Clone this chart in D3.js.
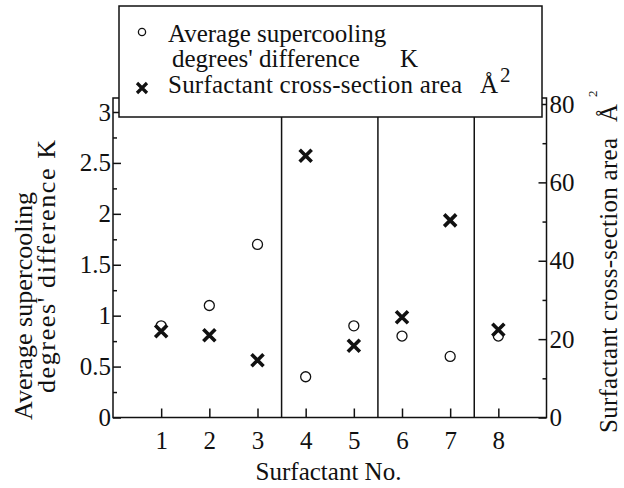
<!DOCTYPE html>
<html>
<head>
<meta charset="utf-8">
<script src="https://cdn.jsdelivr.net/npm/d3@7"></script>
<style>
  body { margin: 0; background: #fff; }
</style>
</head>
<body>
<svg id="mysvg" width="624" height="488"></svg>
<script>
// data
var surfactants = [1, 2, 3, 4, 5, 6, 7, 8];
var supercooling = [0.9, 1.1, 1.7, 0.4, 0.9, 0.8, 0.6, 0.8];      // K, left axis
var crossArea = [22, 21, 14.6, 66.8, 18.3, 25.6, 50.3, 22.4];     // A^2, right axis
var groupBreaks = [3.5, 5.5, 7.5];
var leftTicks = [0, 0.5, 1, 1.5, 2, 2.5, 3];
var leftMinor = [0.25, 0.75, 1.25, 1.75, 2.25, 2.75];
var rightTicks = [0, 20, 40, 60, 80];
var rightMinor = [10, 30, 50, 70];

var svg = d3.select("svg");
var ink = "#111";
var serif = "'Liberation Serif', 'Times New Roman', Times, serif";

var frame = {left: 113, right: 546.5, top: 98, bottom: 417.5};

var x = d3.scaleLinear().domain([0, 9]).range([frame.left, frame.right]);
var yL = d3.scaleLinear().domain([0, 3]).range([frame.bottom, 112]);
var yR = d3.scaleLinear().domain([0, 80]).range([frame.bottom, 104]);

// frame lines (top is hidden behind legend)
svg.append("rect")
  .attr("x", frame.left).attr("y", frame.top)
  .attr("width", frame.right - frame.left).attr("height", frame.bottom - frame.top)
  .attr("fill", "none").attr("stroke", ink).attr("stroke-width", 1.5);

// group separators
svg.selectAll(".sep")
  .data(groupBreaks)
  .enter().append("line")
    .attr("class", "sep")
    .attr("x1", function(d) { return x(d); })
    .attr("x2", function(d) { return x(d); })
    .attr("y1", frame.bottom)
    .attr("y2", frame.top)
    .attr("stroke", ink).attr("stroke-width", 1.5);

function styleAxis(g) {
  g.attr("font-family", serif).attr("font-size", 25);
  g.select(".domain").remove();
  g.selectAll(".tick line").attr("stroke", ink).attr("stroke-width", 1.5);
  g.selectAll(".tick text").attr("fill", ink);
}

// x axis, ticks point inward
svg.append("g")
  .attr("transform", "translate(0," + frame.bottom + ")")
  .call(d3.axisBottom(x).tickValues(surfactants).tickSize(-9).tickPadding(14))
  .call(styleAxis);

// left axis
svg.append("g")
  .attr("transform", "translate(" + frame.left + ",0)")
  .call(d3.axisLeft(yL).tickValues(leftTicks).tickSize(-8).tickPadding(2)
        .tickFormat(function(d) { return d3.format("~g")(d); }))
  .call(styleAxis);
svg.append("g")
  .attr("transform", "translate(" + frame.left + ",0)")
  .call(d3.axisLeft(yL).tickValues(leftMinor).tickSize(-4).tickFormat(""))
  .call(styleAxis);

// right axis
svg.append("g")
  .attr("transform", "translate(" + frame.right + ",0)")
  .call(d3.axisRight(yR).tickValues(rightTicks).tickSize(-8).tickPadding(3))
  .call(styleAxis);
svg.append("g")
  .attr("transform", "translate(" + frame.right + ",0)")
  .call(d3.axisRight(yR).tickValues(rightMinor).tickSize(-4).tickFormat(""))
  .call(styleAxis);

// circles: supercooling
svg.selectAll(".dot")
  .data(surfactants)
  .enter().append("circle")
    .attr("class", "dot")
    .attr("cx", function(d) { return x(d); })
    .attr("cy", function(d, i) { return yL(supercooling[i]); })
    .attr("r", 5)
    .attr("fill", "#fff")
    .attr("stroke", ink)
    .attr("stroke-width", 1.3);

// crosses: cross-section area
function crossPath(h) {
  return "M" + (-h) + "," + (-h) + "L" + h + "," + h + "M" + h + "," + (-h) + "L" + (-h) + "," + h;
}
svg.selectAll(".cross")
  .data(surfactants)
  .enter().append("path")
    .attr("class", "cross")
    .attr("transform", function(d, i) { return "translate(" + x(d) + "," + yR(crossArea[i]) + ")"; })
    .attr("d", crossPath(6))
    .attr("fill", "none")
    .attr("stroke", ink)
    .attr("stroke-width", 3.6);

// axis titles
svg.append("text")
  .attr("text-anchor", "middle")
  .attr("font-size", 25)
  .attr("x", 328.5).attr("y", 480)
  .text("Surfactant No.");

svg.append("text")
  .attr("text-anchor", "middle")
  .attr("font-size", 26)
  .attr("transform", "translate(32,306)rotate(-90)")
  .attr("textLength", 228)
  .text("Average supercooling");
svg.append("text")
  .attr("text-anchor", "middle")
  .attr("font-size", 26)
  .attr("transform", "translate(55,266.5)rotate(-90)")
  .attr("textLength", 253)
  .text("degrees' difference K");

var rt = svg.append("text")
  .attr("font-size", 25)
  .attr("transform", "translate(617,433)rotate(-90)");
rt.append("tspan").attr("x", 0).attr("textLength", 295).text("Surfactant cross-section area");
rt.append("tspan").attr("x", 311).text("\u00C5");
rt.append("tspan").attr("font-size", 13).attr("x", 336).attr("dy", -20).text("2");

// legend
var lg = svg.append("g");
lg.append("rect")
  .attr("x", 119).attr("y", 6)
  .attr("width", 423).attr("height", 111)
  .attr("fill", "#fff").attr("stroke", ink).attr("stroke-width", 1.5);
lg.append("circle")
  .attr("cx", 142).attr("cy", 32).attr("r", 3.6)
  .attr("fill", "#fff").attr("stroke", ink).attr("stroke-width", 1.3);
lg.append("path")
  .attr("transform", "translate(142,88)")
  .attr("d", crossPath(5))
  .attr("fill", "none").attr("stroke", ink).attr("stroke-width", 3.2);
lg.append("text").attr("font-size", 25).attr("x", 168).attr("y", 42)
  .text("Average supercooling");
lg.append("text").attr("font-size", 25).attr("x", 172).attr("y", 67)
  .text("degrees' difference");
lg.append("text").attr("font-size", 25).attr("x", 400).attr("y", 67)
  .text("K");
var l3 = lg.append("text").attr("font-size", 25).attr("x", 168).attr("y", 93);
l3.append("tspan").attr("textLength", 294).text("Surfactant cross-section area");
l3.append("tspan").attr("x", 480).text("\u00C5");
l3.append("tspan").attr("font-size", 21).attr("x", 500).attr("dy", -11).text("2");

// every label in the serif face of the original
svg.selectAll("text").attr("font-family", serif).attr("fill", ink);
</script>
</body>
</html>
